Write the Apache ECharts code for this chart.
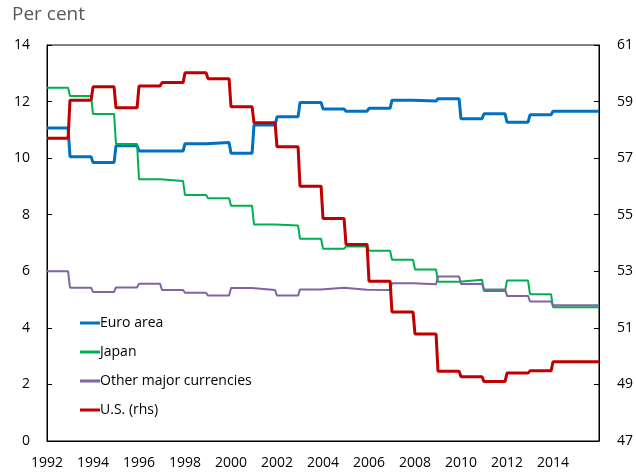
<!DOCTYPE html>
<html>
<head>
<meta charset="utf-8">
<script src="https://cdn.jsdelivr.net/npm/echarts@6/dist/echarts.min.js"></script>
<style>
html,body{margin:0;padding:0;background:#fff;}
#c{width:636px;height:474px;}
</style>
</head>
<body>
<div id="c"></div>
<script>
const years = [1992,1993,1994,1995,1996,1997,1998,1999,2000,2001,2002,2003,2004,2005,2006,2007,2008,2009,2010,2011,2012,2013,2014,2015];
const euroArea = [11.07,10.05,9.85,10.44,10.25,10.25,10.51,10.55,10.17,11.17,11.46,11.97,11.74,11.66,11.76,12.05,12.02,12.10,11.39,11.57,11.27,11.53,11.66,11.66];
const japan = [12.49,12.20,11.56,10.50,9.25,9.19,8.70,8.58,8.32,7.65,7.62,7.15,6.80,6.88,6.73,6.41,6.06,5.63,5.70,5.30,5.67,5.19,4.73,4.73];
const otherMajor = [6.00,5.42,5.27,5.43,5.56,5.34,5.24,5.14,5.41,5.34,5.14,5.36,5.42,5.35,5.34,5.58,5.54,5.82,5.55,5.36,5.13,4.93,4.80,4.80];
const us = [57.70,59.05,59.52,58.78,59.55,59.67,60.02,59.81,58.82,58.25,57.40,56.01,54.87,53.95,52.65,51.56,50.78,49.47,49.27,49.10,49.40,49.48,49.80,49.80];
const xTickLabels = ['1992','1994','1996','1998','2000','2002','2004','2006','2008','2010','2012','2014'];

function stepData(vals){
  const out = [];
  for(let i=0;i<years.length;i++){
    out.push([years[i], vals[i]]);
    out.push([years[i] + 11/12, vals[i]]);
  }
  out.push([years[years.length-1] + 1, vals[vals.length-1]]);
  return out;
}

const font = '"Open Sans", "Noto Sans", sans-serif';
const chart = echarts.init(document.getElementById('c'), null, {renderer:'canvas'});
chart.setOption({
  animation:false,
  backgroundColor:'#fff',
  title:{text:'Per cent', left:7, top:3, padding:[2,5,5,5], textStyle:{fontFamily:font, fontSize:19, fontWeight:'normal', color:'#595959'}},
  grid:{left:47, right:33, top:45, bottom:33, show:true, borderColor:'#000', borderWidth:1},
  legend:{
    orient:'vertical', left:80, top:316, padding:0, itemWidth:20, itemHeight:3, itemGap:15, icon:'rect',
    textStyle:{fontFamily:font, fontSize:14, lineHeight:14, color:'#000', padding:[0,0,0,-5]},
    data:['Euro area','Japan','Other major currencies','U.S. (rhs)']
  },
  xAxis:{
    type:'value', min:1992, max:2016, interval:2,
    axisLine:{show:true, lineStyle:{color:'#000', width:1}},
    axisTick:{show:false}, splitLine:{show:false},
    axisLabel:{showMaxLabel:false, margin:15, color:'#000', fontFamily:font, fontSize:14,
      formatter:function(v){ const s=String(v); return xTickLabels.indexOf(s)>=0 ? s : ''; }}
  },
  yAxis:[
    {type:'value', min:0, max:14, interval:2, position:'left',
     axisLine:{show:true, lineStyle:{color:'#000', width:1}},
     axisTick:{show:true, inside:true, length:5, lineStyle:{color:'#000'}},
     splitLine:{show:false},
     axisLabel:{margin:17, color:'#000', fontFamily:font, fontSize:14}},
    {type:'value', min:47, max:61, interval:2, position:'right',
     axisLine:{show:true, lineStyle:{color:'#000', width:1}},
     axisTick:{show:true, inside:true, length:5, lineStyle:{color:'#000'}},
     splitLine:{show:false},
     axisLabel:{margin:18, color:'#000', fontFamily:font, fontSize:14}}
  ],
  series:[
    {name:'Euro area', type:'line', data:stepData(euroArea), showSymbol:false, symbol:'none', color:'#0070C0', lineStyle:{width:3, color:'#0070C0'}},
    {name:'Japan', type:'line', data:stepData(japan), showSymbol:false, symbol:'none', color:'#00B050', lineStyle:{width:2, color:'#00B050'}},
    {name:'Other major currencies', type:'line', data:stepData(otherMajor), showSymbol:false, symbol:'none', color:'#8064A2', lineStyle:{width:2, color:'#8064A2'}},
    {name:'U.S. (rhs)', type:'line', yAxisIndex:1, data:stepData(us), showSymbol:false, symbol:'none', color:'#C00000', lineStyle:{width:3, color:'#C00000'}}
  ]
});
</script>
</body>
</html>
